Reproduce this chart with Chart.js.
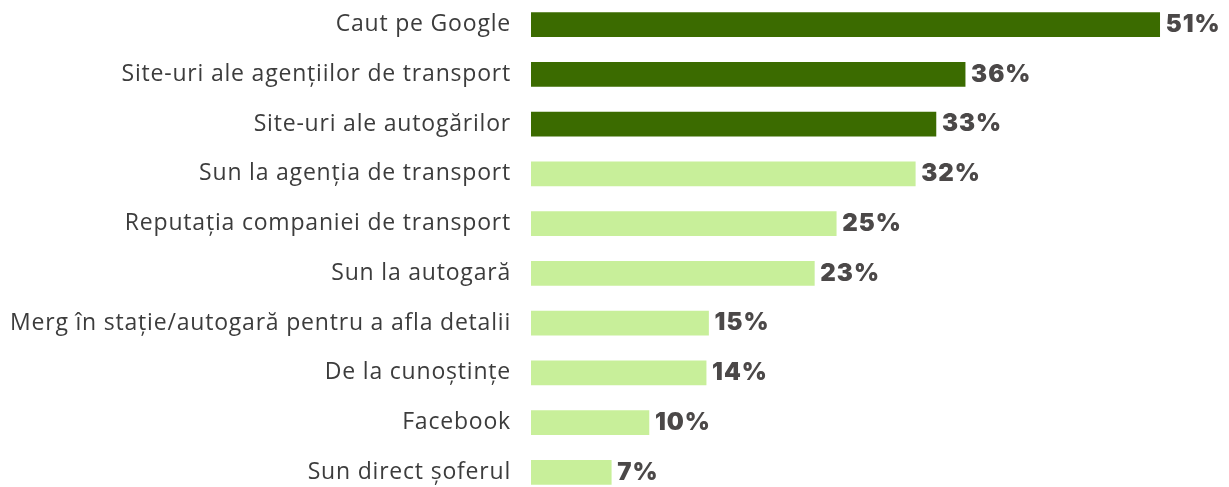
<!DOCTYPE html>
<html>
<head>
<meta charset="utf-8">
<script src="https://cdn.jsdelivr.net/npm/chart.js@4/dist/chart.umd.min.js"></script>
<style>
  html, body { margin: 0; padding: 0; background: #fff; overflow: hidden; }
  /* canvasul e putin mai inalt decat fereastra, ca in original ultima bara e aproape taiata */
  #wrap { position: relative; width: 1229px; height: 525px; margin-top: -14px; }
</style>
</head>
<body>
<div id="wrap"><canvas id="myChart"></canvas></div>
<script>
// Categorii si valori (procente)
const categories = [
  "Caut pe Google",
  "Site-uri ale agențiilor de transport",
  "Site-uri ale autogărilor",
  "Sun la agenția de transport",
  "Reputația companiei de transport",
  "Sun la autogară",
  "Merg în stație/autogară pentru a afla detalii",
  "De la cunoștințe",
  "Facebook",
  "Sun direct șoferul"
];
const values = [51.7, 35.7, 33.3, 31.6, 25.1, 23.3, 14.6, 14.4, 9.7, 6.6];
const valueLabels = ["51%", "36%", "33%", "32%", "25%", "23%", "15%", "14%", "10%", "7%"];
const barColors = [
  "#3b6b00", "#3b6b00", "#3b6b00",
  "#c8ef9a", "#c8ef9a", "#c8ef9a", "#c8ef9a", "#c8ef9a", "#c8ef9a", "#c8ef9a"
];

// spatiere mai larga pentru textul axei
const letterSpacingPlugin = {
  id: "letterSpacing",
  beforeDraw(chart) {
    chart.ctx.letterSpacing = "0.8px";
  }
};

// etichete procentuale la capatul barelor
const valueLabelPlugin = {
  id: "valueLabels",
  afterDatasetsDraw(chart) {
    const ctx = chart.ctx;
    const meta = chart.getDatasetMeta(0);
    ctx.save();
    ctx.letterSpacing = "1px";
    ctx.font = "900 24px Inter";
    ctx.fillStyle = "#4b4848";
    ctx.textBaseline = "middle";
    ctx.textAlign = "left";
    meta.data.forEach((bar, i) => {
      ctx.fillText(valueLabels[i], bar.x + 6, bar.y);
    });
    ctx.restore();
  }
};

const ctx = document.getElementById("myChart").getContext("2d");
const chart = new Chart(ctx, {
  type: "bar",
  data: {
    labels: categories,
    datasets: [{
      data: values,
      backgroundColor: barColors,
      barThickness: 24,
      categoryPercentage: 1
    }]
  },
  options: {
    indexAxis: "y",
    responsive: true,
    maintainAspectRatio: false,
    animation: false,
    layout: { padding: 0 },
    plugins: {
      legend: { display: false },
      tooltip: { enabled: false }
    },
    scales: {
      x: {
        display: false,
        min: 0,
        max: 57.4
      },
      y: {
        border: { display: false },
        grid: { display: false, drawTicks: true, tickLength: 20 },
        ticks: {
          color: "#3c3c3c",
          padding: 0,
          font: { family: "Open Sans", size: 23 }
        },
        afterFit(scale) {
          scale.width = 531;
        }
      }
    }
  },
  plugins: [letterSpacingPlugin, valueLabelPlugin]
});
</script>
</body>
</html>
